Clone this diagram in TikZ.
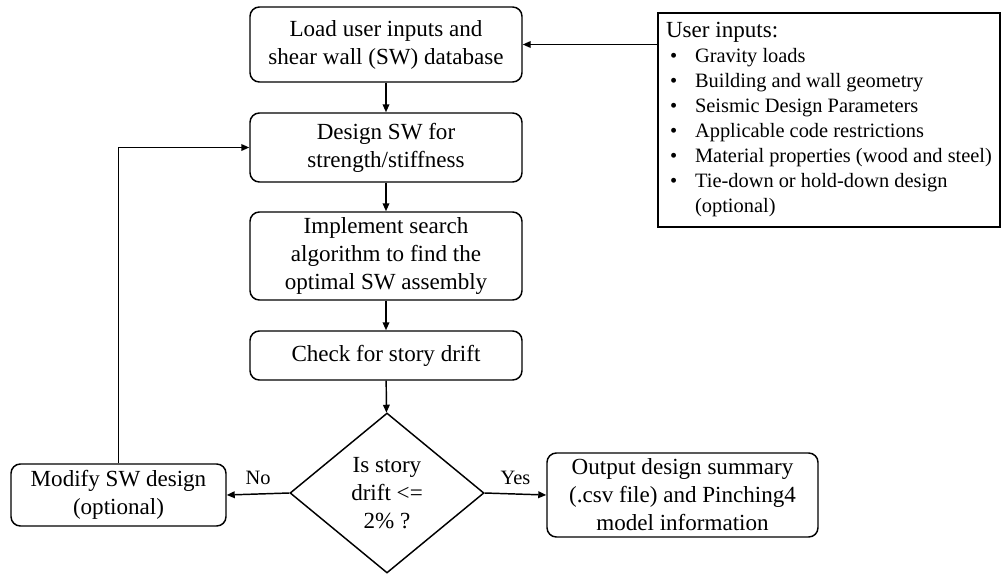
\documentclass[tikz,border=0pt]{standalone}
\usepackage{fontspec}
\setmainfont{Liberation Serif}
\usetikzlibrary{shapes.geometric,arrows.meta}

\tikzset{
  stepbox/.style={draw, line width=1.1pt, rounded corners=7pt, align=center,
    inner sep=2pt, font=\fontsize{17.3}{21}\selectfont},
  decision/.style={draw, line width=1.1pt, diamond, align=center, inner sep=0pt,
    font=\fontsize{17.3}{21}\selectfont},
  listbox/.style={draw, line width=1.1pt, align=left, inner sep=0pt,
    font=\fontsize{15.3}{18.75}\selectfont},
  arr/.style={line width=1.1pt, -{Triangle[length=6pt,width=5pt]}},
  lbl/.style={font=\fontsize{15.3}{18}\selectfont}
}
\newcommand{\bulletline}[1]{\makebox[21.75pt][l]{\hspace{3pt}\textbullet}#1}

\begin{document}
\begin{tikzpicture}[x=0.75pt, y=-0.75pt]
  \useasboundingbox (0,0) rectangle (1003,575);

  % process steps down the centre column
  \node[stepbox, minimum width=272*0.75pt, minimum height=75*0.75pt] (load) at (386,44.5)
    {Load user inputs and\\shear wall (SW) database};
  \node[stepbox, minimum width=272*0.75pt, minimum height=69*0.75pt] (design) at (386,147.5)
    {Design SW for\\strength/stiffness};
  \node[stepbox, minimum width=272*0.75pt, minimum height=88*0.75pt] (search) at (386,256)
    {Implement search\\algorithm to find the\\optimal SW assembly};
  \node[stepbox, minimum width=272*0.75pt, minimum height=49*0.75pt] (check) at (386,355.5)
    {Check for story drift};
  \node[decision, minimum width=194*0.75pt, minimum height=160*0.75pt] (drift) at (387,493)
    {Is story\\drift <=\\2\% ?};

  % side boxes
  \node[stepbox, minimum width=215*0.75pt, minimum height=62*0.75pt] (modify) at (118.5,495)
    {Modify SW design\\(optional)};
  \node[stepbox, minimum width=271*0.75pt, minimum height=84*0.75pt] (output) at (682.5,495)
    {Output design summary\\(.csv file) and Pinching4\\model information};

  % list of user inputs
  \node[listbox, minimum width=342*0.75pt, minimum height=214*0.75pt] (inputs) at (829,120)
    {{\fontsize{17.3}{20}\selectfont User inputs:}\\
     \bulletline{Gravity loads}\\
     \bulletline{Building and wall geometry}\\
     \bulletline{Seismic Design Parameters}\\
     \bulletline{Applicable code restrictions}\\
     \bulletline{Material properties (wood and steel)}\\
     \bulletline{Tie-down or hold-down design}\\
     \hspace*{21.75pt}(optional)};

  % connectors
  \draw[arr] (inputs.west |- load.east) -- (load.east);
  \draw[arr] (load) -- (design);
  \draw[arr] (design) -- (search);
  \draw[arr] (search) -- (check);
  \draw[arr] (check) -- (drift);
  \draw[arr] (drift.west) -- node[lbl, above=3pt] {No} (modify.east);
  \draw[arr] (drift.east) -- node[lbl, above=3pt] {Yes} (output.west);
  \draw[arr] (modify.north) |- (design.west);
\end{tikzpicture}
\end{document}
